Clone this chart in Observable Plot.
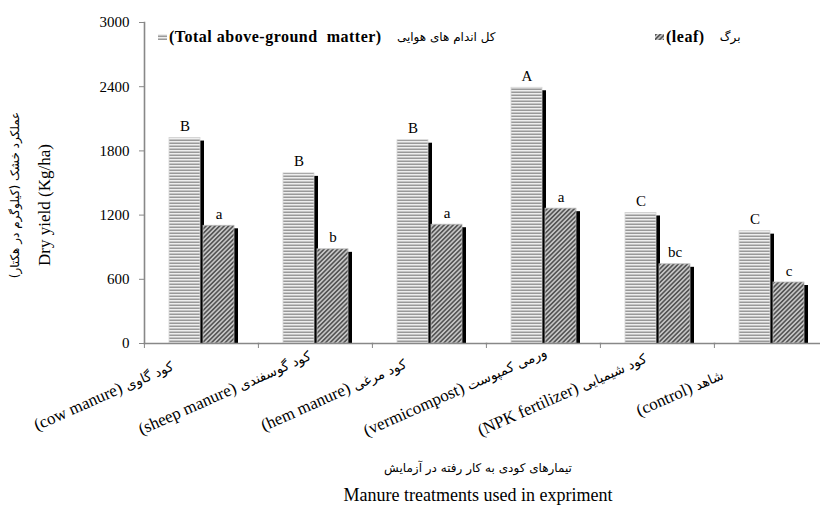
<!DOCTYPE html>
<html>
<head>
<meta charset="utf-8">
<script src="https://cdn.jsdelivr.net/npm/d3@7"></script>
<script src="https://cdn.jsdelivr.net/npm/@observablehq/plot@0.6"></script>
<style>
  body { margin: 0; background: #fff; }
  #wrap { position: relative; width: 820px; height: 508px; overflow: hidden;
          font-family: "Liberation Serif", "Times New Roman", "DejaVu Sans", serif; color: #000; }
  .legend { position: absolute; top: 28px; display: flex; align-items: center; white-space: pre; font-size: 16px; }
  .legend b { font-weight: bold; font-family: "Liberation Serif", serif; letter-spacing: 0.5px; }
  .fa { font-size: 12px; font-family: "DejaVu Sans", sans-serif; }
  .ylab { position: absolute; white-space: nowrap; transform: translate(-50%, -50%) rotate(-90deg); }
  .title { position: absolute; left: 478px; transform: translateX(-50%); white-space: nowrap; }
</style>
</head>
<body>
<svg width="0" height="0" style="position:absolute">
  <defs>
    <pattern id="stripes" patternUnits="userSpaceOnUse" width="6" height="3">
      <rect width="6" height="3" fill="#eeeeee"/>
      <rect y="1.6" width="6" height="1.2" fill="#858585"/>
    </pattern>
    <pattern id="hatch" patternUnits="userSpaceOnUse" width="3.2" height="3.2" patternTransform="rotate(45)">
      <rect width="3.2" height="3.2" fill="#c4c4c4"/>
      <rect width="1.6" height="3.2" fill="#555"/>
    </pattern>
  </defs>
</svg>
<div id="wrap"></div>
<script>
// Treatments: English name and Persian name of each category
const treatmentsEn = ["(cow manure)", "(sheep manure)", "(hem manure)", "(vermicompost)", "(NPK fertilizer)", "(control)"];
const treatmentsFa = ["کود گاوی", "کود گوسفندی", "کود مرغی", "ورمی کمپوست", "کود شیمیایی", "شاهد"];
// Dry yield (kg/ha)
const totalMatter = [1920, 1590, 1900, 2390, 1220, 1050];
const leafMatter = [1100, 880, 1110, 1260, 740, 570];
// Mean-separation letters
const totalLetters = ["B", "B", "B", "A", "C", "C"];
const leafLetters = ["a", "b", "a", "a", "bc", "c"];
const yTicks = [0, 600, 1200, 1800, 2400, 3000];
const parts = ["total", "leaf"];

const rows = treatmentsEn.flatMap((t, i) => [
  {treatment: t, part: "total", value: totalMatter[i], letter: totalLetters[i]},
  {treatment: t, part: "leaf", value: leafMatter[i], letter: leafLetters[i]}
]);
const totals = rows.filter(d => d.part === "total");
const leaves = rows.filter(d => d.part === "leaf");
const labels = treatmentsEn.map((en, i) => ({treatment: en, en, fa: treatmentsFa[i]}));

const fxRange = [143, 828];
const groupStep = (fxRange[1] - fxRange[0]) / treatmentsEn.length;
const enc = {fx: "treatment", x: "part", y: "value"};
// both halves of a category label share one anchor on a common rotated baseline
const labelAnchor = {fx: "treatment", frameAnchor: "bottom", lineAnchor: "bottom", rotate: -24, dx: -74, dy: 47};

const chart = Plot.plot({
  width: 820,
  height: 508,
  marginTop: 22,
  marginBottom: 165,
  marginLeft: 143,
  marginRight: 0,
  style: {fontFamily: '"Liberation Serif", "Times New Roman", "DejaVu Sans", serif', fontSize: "15px", background: "white", color: "black", overflow: "hidden"},
  fx: {domain: treatmentsEn, range: fxRange, padding: 0},
  x: {domain: parts, paddingInner: 0.09, paddingOuter: 0.72, axis: null},
  y: {domain: [0, 3000]},
  marks: [
    Plot.frame({anchor: "left", facetAnchor: "left", stroke: "#888", strokeWidth: 1.6}),
    // dark drop edge behind each bar
    Plot.barY(totals, {...enc, fill: "black", dx: 4, insetTop: 3}),
    Plot.barY(totals, {...enc, fill: "url(#stripes)", stroke: "#d6d6d6", strokeWidth: 0.8}),
    Plot.barY(leaves, {...enc, fill: "black", dx: 4, insetTop: 3}),
    Plot.barY(leaves, {...enc, fill: "url(#hatch)", stroke: "#b8b8b8", strokeWidth: 0.8}),
    Plot.frame({anchor: "bottom", stroke: "#888", strokeWidth: 1.6}),
    Plot.axisY({ticks: yTicks, tickFormat: d => String(d), tickSize: 5, tickPadding: 10,
                stroke: "#888", fill: "black", fontSize: 15, label: null}),
    Plot.axisFx({anchor: "bottom", tickSize: 5, tickFormat: () => "", dx: -groupStep / 2,
                 stroke: "#888", label: null}),
    Plot.text(rows, {...enc, text: "letter", lineAnchor: "bottom", dy: -7, fontSize: 15}),
    Plot.text(labels, {...labelAnchor, text: d => d.en + " ", textAnchor: "end", fontSize: 17}),
    Plot.text(labels, {...labelAnchor, text: "fa", textAnchor: "start", fontSize: 13.5,
                       fontFamily: "DejaVu Sans, sans-serif"})
  ]
});

const wrap = document.getElementById("wrap");
wrap.appendChild(chart);

// Legend
const legendItems = [
  {left: 158, pattern: "stripes", en: "(Total above-ground  matter)", fa: "کل اندام های هوایی"},
  {left: 655, pattern: "hatch", en: "(leaf)", fa: "برگ"}
];
for (const item of legendItems) {
  const div = document.createElement("div");
  div.className = "legend";
  div.style.left = item.left + "px";
  div.innerHTML = `<svg width="9" height="6" style="margin-right:2px"><rect width="9" height="6" fill="url(#${item.pattern})"/></svg>` +
                  `<b>${item.en}</b><span class="fa">    ${item.fa}</span>`;
  wrap.appendChild(div);
}

// Axis titles
const yFa = document.createElement("div");
yFa.className = "ylab fa";
yFa.style.left = "15px"; yFa.style.top = "195px";
yFa.textContent = "عملکرد خشک (کیلوگرم در هکتار)";
wrap.appendChild(yFa);

const yEn = document.createElement("div");
yEn.className = "ylab";
yEn.style.left = "45px"; yEn.style.top = "205px"; yEn.style.fontSize = "17px";
yEn.textContent = "Dry yield (Kg/ha)";
wrap.appendChild(yEn);

const tFa = document.createElement("div");
tFa.className = "title fa";
tFa.style.top = "461px"; tFa.style.fontSize = "12px";
tFa.textContent = "تیمارهای کودی به کار رفته در آزمایش";
wrap.appendChild(tFa);

const tEn = document.createElement("div");
tEn.className = "title";
tEn.style.top = "485px"; tEn.style.fontSize = "18px";
tEn.textContent = "Manure treatments used in expriment";
wrap.appendChild(tEn);
</script>
</body>
</html>
